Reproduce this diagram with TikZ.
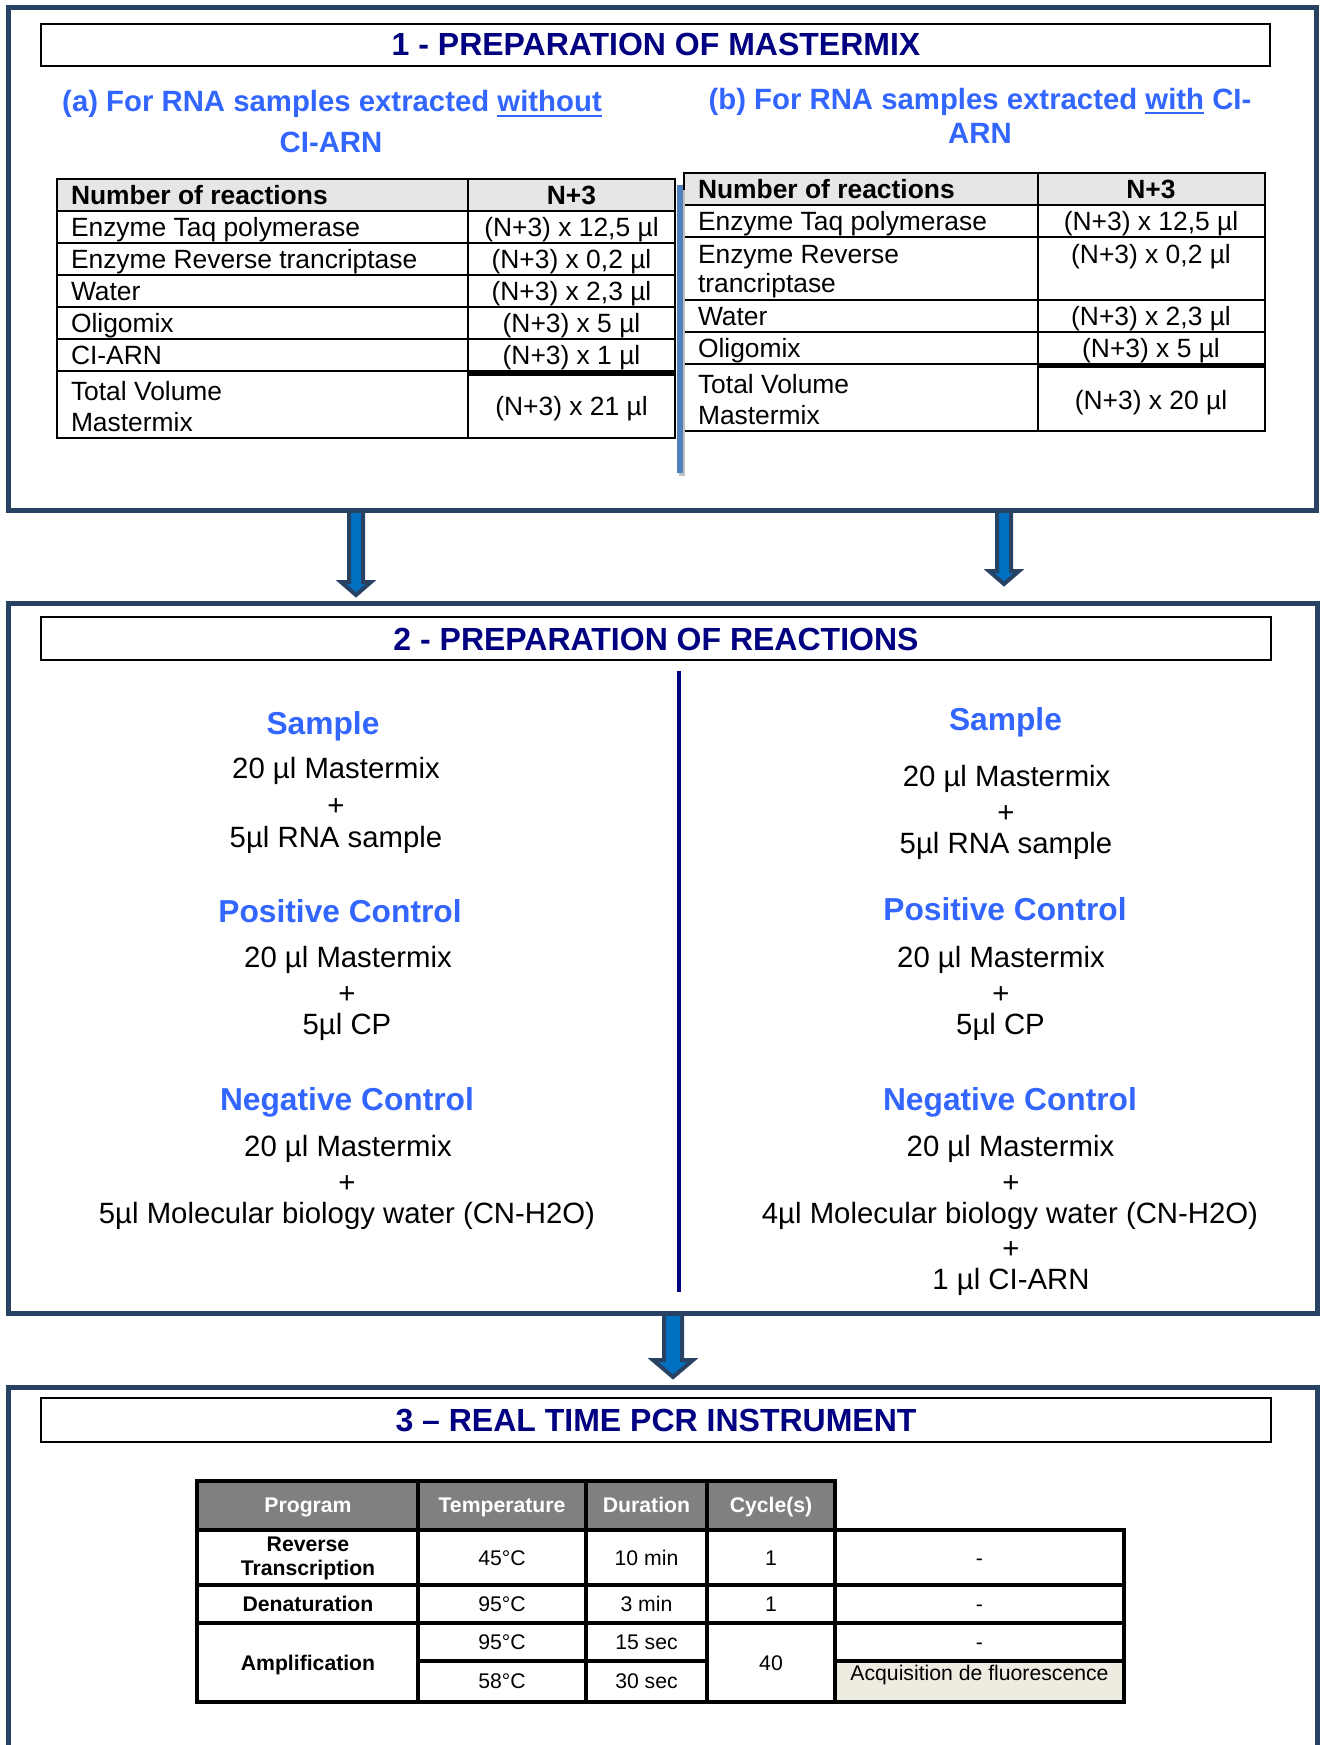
\documentclass[tikz,border=0pt]{standalone}
\usepackage{fontspec}
\setmainfont{Liberation Sans}
\usetikzlibrary{calc}
\definecolor{boxcol}{RGB}{40,66,100}
\definecolor{navyt}{RGB}{0,0,128}
\definecolor{subblue}{RGB}{51,102,255}
\definecolor{arrfill}{RGB}{0,112,192}
\definecolor{steel}{RGB}{79,129,189}
\definecolor{hdrlight}{RGB}{230,230,230}
\definecolor{hdrgray}{RGB}{128,128,128}
\definecolor{beige}{RGB}{238,236,225}
\newsavebox\myulbox
\newcommand\myul[1]{\sbox\myulbox{#1}\rlap{\rule[-4pt]{\wd\myulbox}{2pt}}\usebox\myulbox}
% start, end (tip), shaft half width, head half width, head length
\newcommand\blockarrow[5]{%
  \draw[arrowsty] ($(#1)+(-#3,0)$) -- ($(#2)+(-#3,-#5)$) -- ($(#2)+(-#4,-#5)$) -- (#2)
    -- ($(#2)+(#4,-#5)$) -- ($(#2)+(#3,-#5)$) -- ($(#1)+(#3,0)$) -- cycle;}
\begin{document}
\begin{tikzpicture}[x=0.75pt,y=-0.75pt,
  txt/.style={anchor=base,inner sep=0pt,outer sep=0pt},
  lt/.style={anchor=base west,inner sep=0pt,outer sep=0pt},
  ttl/.style={font=\fontsize{24}{28}\selectfont\bfseries,text=navyt},
  sub/.style={font=\fontsize{22}{26}\selectfont\bfseries,text=subblue},
  tb/.style={font=\fontsize{19.8}{24}\selectfont},
  tbb/.style={font=\fontsize{19.8}{24}\selectfont\bfseries},
  hd/.style={font=\fontsize{23.8}{28}\selectfont\bfseries,text=subblue},
  bd/.style={font=\fontsize{22}{26}\selectfont},
  pc/.style={font=\fontsize{15.9}{19}\selectfont},
  pcb/.style={font=\fontsize{15.9}{19}\selectfont\bfseries},
  pch/.style={font=\fontsize{15.9}{19}\selectfont\bfseries,text=white},
  boxsty/.style={draw=boxcol,line width=3.75pt},
  ttlbox/.style={draw=black,line width=2pt},
  tline/.style={draw=black,line width=1.5pt},
  pline/.style={draw=black,line width=2.5pt},
  arrowsty/.style={draw=boxcol,fill=arrfill,line width=3pt,line join=miter}]
\useasboundingbox (0,0) rectangle (1321,1745);
\fill[white] (0,0) rectangle (1321,1745);

% ---------- arrows (drawn under the boxes) ----------
\coordinate (a1s) at (356,510); \coordinate (a1e) at (356,595);
\coordinate (a2s) at (1004,510); \coordinate (a2e) at (1004,584);
\coordinate (a3s) at (673,1313); \coordinate (a3e) at (673,1377);
\blockarrow{a1s}{a1e}{7}{15}{13}
\blockarrow{a2s}{a2e}{7}{15}{13}
\blockarrow{a3s}{a3e}{9}{20}{17}

% ---------- box 1 ----------
\draw[boxsty] (8,8) rectangle (1316,510);
\draw[ttlbox] (41,24) rectangle (1270,66);
\node[txt,ttl] (t1) at (656,56) {1 - PREPARATION OF MASTERMIX};
\node[txt,sub] (sa1) at (332,112) {(a) For RNA samples extracted \myul{without}};
\node[txt,sub] (sa2) at (331,152) {CI-ARN};
\node[txt,sub] (sb1) at (980,109) {(b) For RNA samples extracted \myul{with} CI-};
\node[txt,sub] (sb2) at (980,143) {ARN};

% left table
\fill[hdrlight] (57,179) rectangle (675,211);
\draw[tline] (57,179) rectangle (675,438);
\foreach \yy in {211,243,275,307,339,371} \draw[tline] (57,\yy) -- (675,\yy);
\draw[tline] (468,179) -- (468,438);
\fill[black] (468,370) rectangle (675,376);
\node[lt,tbb] (la0) at (71,204) {Number of reactions};
\node[txt,tbb] (lb0) at (571.5,204) {N+3};
\node[lt,tb] (la1) at (71,236) {Enzyme Taq polymerase};
\node[txt,tb] (lb1) at (571.5,236) {(N+3) x 12,5 µl};
\node[lt,tb] (la2) at (71,268) {Enzyme Reverse trancriptase};
\node[txt,tb] (lb2) at (571.5,268) {(N+3) x 0,2 µl};
\node[lt,tb] (la3) at (71,300) {Water};
\node[txt,tb] (lb3) at (571.5,300) {(N+3) x 2,3 µl};
\node[lt,tb] (la4) at (71,332) {Oligomix};
\node[txt,tb] (lb4) at (571.5,332) {(N+3) x 5 µl};
\node[lt,tb] (la5) at (71,364) {CI-ARN};
\node[txt,tb] (lb5) at (571.5,364) {(N+3) x 1 µl};
\node[lt,tb] (la6) at (71,400) {Total Volume};
\node[lt,tb] (la7) at (71,431) {Mastermix};
\node[txt,tb] (lb6) at (571.5,415) {(N+3) x 21 µl};

% right table
\fill[hdrlight] (684,173) rectangle (1265,205);
\draw[tline] (684,173) rectangle (1265,431);
\foreach \yy in {205,237,300,332,364} \draw[tline] (684,\yy) -- (1265,\yy);
\draw[tline] (1038,173) -- (1038,431);
\fill[black] (1038,363) rectangle (1265,368);
\node[lt,tbb] (ra0) at (698,198) {Number of reactions};
\node[txt,tbb] (rb0) at (1151,198) {N+3};
\node[lt,tb] (ra1) at (698,230) {Enzyme Taq polymerase};
\node[txt,tb] (rb1) at (1151,230) {(N+3) x 12,5 µl};
\node[lt,tb] (ra2) at (698,263) {Enzyme Reverse};
\node[lt,tb] (ra2b) at (698,292) {trancriptase};
\node[txt,tb] (rb2) at (1151,263) {(N+3) x 0,2 µl};
\node[lt,tb] (ra3) at (698,325) {Water};
\node[txt,tb] (rb3) at (1151,325) {(N+3) x 2,3 µl};
\node[lt,tb] (ra4) at (698,357) {Oligomix};
\node[txt,tb] (rb4) at (1151,357) {(N+3) x 5 µl};
\node[lt,tb] (ra5) at (698,393) {Total Volume};
\node[lt,tb] (ra6) at (698,424) {Mastermix};
\node[txt,tb] (rb5) at (1151,409) {(N+3) x 20 µl};

% blue separator between tables
\draw[black!25,line width=4.5pt] (682,190) -- (682,476);
\draw[steel,line width=4.5pt] (680,185) -- (680,473);

% ---------- box 2 ----------
\draw[boxsty] (8,603) rectangle (1317,1313);
\draw[ttlbox] (41,617) rectangle (1271,660);
\node[txt,ttl] (t2) at (656,650) {2 - PREPARATION OF REACTIONS};
\draw[navyt,line width=2.3pt] (679,671) -- (679,1292);

% left column
\node[txt,hd] (ls0) at (323,734) {Sample};
\node[txt,bd] (ls1) at (336,778) {20 µl Mastermix};
\node[txt,bd] (ls2) at (336,815) {+};
\node[txt,bd] (ls3) at (336,847) {5µl RNA sample};
\node[txt,hd] (lp0) at (340,922.7) {Positive Control};
\node[txt,bd] (lp1) at (348,967) {20 µl Mastermix};
\node[txt,bd] (lp2) at (347,1003) {+};
\node[txt,bd] (lp3) at (347,1034) {5µl CP};
\node[txt,hd] (ln0) at (347,1110.7) {Negative Control};
\node[txt,bd] (ln1) at (348,1156) {20 µl Mastermix};
\node[txt,bd] (ln2) at (347,1192) {+};
\node[txt,bd] (ln3) at (347,1223) {5µl Molecular biology water (CN-H2O)};

% right column
\node[txt,hd] (rs0) at (1005.5,730.7) {Sample};
\node[txt,bd] (rs1) at (1006.6,786.7) {20 µl Mastermix};
\node[txt,bd] (rs2) at (1006,822) {+};
\node[txt,bd] (rs3) at (1006,853) {5µl RNA sample};
\node[txt,hd] (rp0) at (1005,920.7) {Positive Control};
\node[txt,bd] (rp1) at (1001,967) {20 µl Mastermix};
\node[txt,bd] (rp2) at (1001,1003) {+};
\node[txt,bd] (rp3) at (1000.5,1034) {5µl CP};
\node[txt,hd] (rn0) at (1010,1110.5) {Negative Control};
\node[txt,bd] (rn1) at (1010.5,1156) {20 µl Mastermix};
\node[txt,bd] (rn2) at (1011,1192) {+};
\node[txt,bd] (rn3) at (1010,1223) {4µl Molecular biology water (CN-H2O)};
\node[txt,bd] (rn4) at (1011,1258) {+};
\node[txt,bd] (rn5) at (1011,1289) {1 µl CI-ARN};

% ---------- box 3 ----------
\draw[boxsty] (8,1770) -- (8,1387) -- (1317,1387) -- (1317,1770);
\draw[ttlbox] (41,1398) rectangle (1271,1442);
\node[txt,ttl] (t3) at (656,1431) {3 – REAL TIME PCR INSTRUMENT};

% PCR table
\fill[hdrgray] (197,1481) rectangle (835,1530);
\fill[beige] (835,1661) rectangle (1124,1702);
\draw[pline] (197,1481) rectangle (835,1530);
\draw[pline] (197,1530) rectangle (1124,1702);
\foreach \xx in {418,586,707} \draw[pline] (\xx,1481) -- (\xx,1702);
\draw[pline] (835,1530) -- (835,1702);
\draw[pline] (197,1585) -- (1124,1585);
\draw[pline] (197,1623) -- (1124,1623);
\draw[pline] (418,1661) -- (707,1661);
\draw[pline] (835,1661) -- (1124,1661);

\node[txt,pch] (h1) at (308,1512) {Program};
\node[txt,pch] (h2) at (502,1512) {Temperature};
\node[txt,pch] (h3) at (646.5,1512) {Duration};
\node[txt,pch] (h4) at (771,1512) {Cycle(s)};

\node[txt,pcb] (p1a) at (308,1551) {Reverse};
\node[txt,pcb] (p1b) at (308,1575) {Transcription};
\node[txt,pc] (p1c) at (502,1565) {45°C};
\node[txt,pc] (p1d) at (646.5,1565) {10 min};
\node[txt,pc] (p1e) at (771,1565) {1};
\node[txt,pc] (p1f) at (979.5,1565) {-};

\node[txt,pcb] (p2a) at (308,1611) {Denaturation};
\node[txt,pc] (p2c) at (502,1611) {95°C};
\node[txt,pc] (p2d) at (646.5,1611) {3 min};
\node[txt,pc] (p2e) at (771,1611) {1};
\node[txt,pc] (p2f) at (979.5,1611) {-};

\node[txt,pcb] (p3a) at (308,1670) {Amplification};
\node[txt,pc] (p3c) at (502,1649) {95°C};
\node[txt,pc] (p3d) at (646.5,1649) {15 sec};
\node[txt,pc] (p3e) at (771,1670) {40};
\node[txt,pc] (p3f) at (979.5,1649) {-};
\node[txt,pc] (p4c) at (502,1688) {58°C};
\node[txt,pc] (p4d) at (646.5,1688) {30 sec};
\node[txt,pc] (p4f) at (979.5,1680) {Acquisition de fluorescence};
\end{tikzpicture}
\end{document}
